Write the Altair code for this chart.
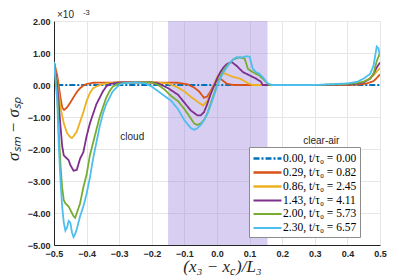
import altair as alt
import pandas as pd

labels = ["0.00, t/τ₀ = 0.00", "0.29, t/τ₀ = 0.82", "0.86, t/τ₀ = 2.45",
          "1.43, t/τ₀ = 4.11", "2.00, t/τ₀ = 5.73", "2.30, t/τ₀ = 6.57"]
colors = ["#0072BD", "#D95319", "#EDB120", "#7E2F8E", "#77AC30", "#4DBEEE"]
dashes = [[6, 2, 2, 2], [1, 0], [1, 0], [1, 0], [1, 0], [1, 0]]

x_blue = [-0.49, 0.5]
y_blue = [0.0, 0.0]

x_red = [-0.5, -0.49, -0.48, -0.475, -0.469, -0.46, -0.45, -0.44, -0.43, -0.42, -0.41, -0.40, -0.38,
         -0.3, -0.2, -0.12, -0.09, -0.07, -0.055, -0.04, -0.03, -0.02, -0.01, 0.0, 0.01, 0.02, 0.03,
         0.05, 0.3, 0.4, 0.44, 0.46, 0.48, 0.49, 0.5]
y_red = [0.72, 0.3, -0.4, -0.7, -0.78, -0.7, -0.55, -0.38, -0.22, -0.1, -0.02, 0.03, 0.07,
         0.08, 0.08, 0.07, 0.02, -0.08, -0.2, -0.4, -0.36, -0.2, 0.0, 0.15, 0.2, 0.12, 0.04,
         0.0, 0.0, 0.0, 0.02, 0.05, 0.12, 0.22, 0.33]

x_orange = [-0.5, -0.49, -0.48, -0.47, -0.46, -0.45, -0.445, -0.44, -0.43, -0.42, -0.41, -0.40, -0.39,
            -0.38, -0.36, -0.34, -0.3, -0.2, -0.15, -0.12, -0.1, -0.08, -0.06, -0.043, -0.03, -0.015,
            0.0, 0.015, 0.03, 0.05, 0.07, 0.085, 0.095, 0.11, 0.3, 0.4, 0.44, 0.46, 0.48, 0.49, 0.5]
y_orange = [0.72, 0.1, -0.7, -1.2, -1.5, -1.63, -1.66, -1.6, -1.45, -1.15, -0.85, -0.5, -0.25,
            -0.1, 0.0, 0.05, 0.08, 0.08, 0.05, -0.08, -0.2, -0.37, -0.52, -0.64, -0.5, -0.15,
            0.25, 0.4, 0.33, 0.25, 0.2, 0.12, 0.05, 0.0, 0.0, 0.02, 0.06, 0.15, 0.3, 0.42, 0.53]

x_purple = [-0.5, -0.49, -0.48, -0.475, -0.47, -0.46, -0.455, -0.45, -0.44, -0.43, -0.42, -0.41,
            -0.40, -0.39, -0.38, -0.37, -0.36, -0.35, -0.34, -0.33, -0.3, -0.2, -0.18, -0.15, -0.12,
            -0.1, -0.08, -0.06, -0.05, -0.04, -0.03, -0.02, -0.01, 0.0, 0.01, 0.02, 0.03, 0.045,
            0.06, 0.08, 0.1, 0.12, 0.135, 0.14, 0.2, 0.35, 0.42, 0.45, 0.47, 0.48, 0.49, 0.5]
y_purple = [0.72, 0.0, -1.3, -1.9, -2.2, -2.3, -2.35, -2.5, -2.68, -2.65, -2.3, -2.1,
            -1.6, -1.2, -0.9, -0.6, -0.4, -0.2, -0.05, 0.03, 0.08, 0.08, 0.05, -0.1, -0.3,
            -0.55, -0.8, -0.95, -0.95, -0.85, -0.6, -0.3, -0.05, 0.2, 0.4, 0.55, 0.65, 0.72,
            0.6, 0.4, 0.3, 0.2, 0.1, 0.0, 0.0, 0.0, 0.03, 0.08, 0.2, 0.35, 0.55, 0.7]

x_green = [-0.5, -0.49, -0.485, -0.48, -0.475, -0.47, -0.465, -0.46, -0.455, -0.45, -0.44, -0.435,
           -0.43, -0.42, -0.41, -0.40, -0.39, -0.38, -0.37, -0.36, -0.35, -0.34, -0.33, -0.32, -0.3,
           -0.25, -0.2, -0.18, -0.16, -0.14, -0.12, -0.1, -0.08, -0.07, -0.06, -0.05, -0.04, -0.03,
           -0.02, -0.01, 0.0, 0.01, 0.02, 0.03, 0.05, 0.07, 0.085, 0.095, 0.11, 0.13, 0.15, 0.16,
           0.3, 0.38, 0.42, 0.45, 0.47, 0.48, 0.49, 0.5]
y_green = [0.72, -0.3, -1.5, -2.5, -3.2, -3.6, -3.7, -3.75, -3.8, -3.9, -4.1, -4.15,
           -4.0, -3.7, -3.2, -2.8, -2.2, -1.8, -1.4, -1.0, -0.7, -0.4, -0.2, -0.05, 0.05,
           0.08, 0.08, 0.0, -0.15, -0.35, -0.5, -0.75, -1.05, -1.2, -1.25, -1.2, -1.1, -0.9,
           -0.6, -0.3, 0.0, 0.25, 0.45, 0.6, 0.8, 0.87, 0.82, 0.5, 0.4, 0.3, 0.1, 0.0,
           0.0, 0.02, 0.05, 0.1, 0.2, 0.35, 0.75, 1.0]

x_cyan = [-0.5, -0.49, -0.485, -0.48, -0.475, -0.47, -0.465, -0.46, -0.455, -0.45, -0.445, -0.44,
          -0.435, -0.43, -0.42, -0.41, -0.40, -0.39, -0.38, -0.37, -0.36, -0.35, -0.34, -0.33, -0.32,
          -0.31, -0.3, -0.29, -0.25, -0.22, -0.2, -0.18, -0.16, -0.14, -0.12, -0.1, -0.08, -0.07,
          -0.06, -0.05, -0.04, -0.03, -0.02, -0.01, 0.0, 0.01, 0.02, 0.03, 0.04, 0.05, 0.06, 0.07,
          0.08, 0.09, 0.1, 0.11, 0.12, 0.13, 0.14, 0.155, 0.17, 0.3, 0.36, 0.4, 0.43, 0.45, 0.47,
          0.48, 0.485, 0.49, 0.495, 0.5]
y_cyan = [0.72, -0.5, -2.0, -3.0, -3.8, -4.3, -4.55, -4.45, -4.25, -4.3, -4.6, -4.75,
          -4.65, -4.5, -4.1, -3.8, -3.4, -2.9, -2.3, -1.8, -1.3, -0.9, -0.6, -0.4, -0.2,
          -0.1, 0.0, 0.05, 0.08, 0.05, -0.05, -0.2, -0.35, -0.5, -0.75, -1.1, -1.35, -1.4,
          -1.35, -1.25, -1.1, -0.9, -0.65, -0.35, -0.05, 0.2, 0.4, 0.55, 0.7, 0.8, 0.87, 0.85,
          0.87, 0.9, 0.88, 0.5, 0.4, 0.35, 0.25, 0.05, 0.0, 0.0, 0.03, 0.05, 0.1, 0.2, 0.35,
          0.6, 0.9, 1.2, 1.15, 0.9]

series_x = [x_blue, x_red, x_orange, x_purple, x_green, x_cyan]
series_y = [y_blue, y_red, y_orange, y_purple, y_green, y_cyan]

rows = []
for lab, xs_, ys_ in zip(labels, series_x, series_y):
    for i, (xv, yv) in enumerate(zip(xs_, ys_)):
        rows.append({"series": lab, "x": xv, "y": yv, "i": i})
df = pd.DataFrame(rows)

x_ticks = [-0.5, -0.4, -0.3, -0.2, -0.1, 0.0, 0.1, 0.2, 0.3, 0.4, 0.5]
y_ticks = [-5, -4, -3, -2, -1, 0, 1, 2]

shade_df = pd.DataFrame({"x0": [-0.15], "x1": [0.155]})
notes_df = pd.DataFrame({"x": [-0.26, 0.32], "y": [-1.63, -1.75], "t": ["cloud", "clear-air"]})

W, H = 326, 224
xs = alt.Scale(domain=[-0.5, 0.5], nice=False, zero=False)
ys = alt.Scale(domain=[-5, 2], nice=False, zero=False)

x_axis = alt.Axis(values=x_ticks, format=".1f", title=None, labelOverlap=False,
                  tickCount=11, labelFlush=False)
y_axis = alt.Axis(values=y_ticks, format=".2f", labelOverlap=False, tickCount=8,
                  labelFlush=False, title=None)

shade = alt.Chart(shade_df).mark_rect(color="#9b84db", opacity=0.4).encode(
    x=alt.X("x0:Q", scale=xs, axis=x_axis),
    x2="x1:Q",
    y=alt.value(0), y2=alt.value(H),
)

lines = alt.Chart(df).mark_line(strokeWidth=1.8, clip=True).encode(
    x=alt.X("x:Q", scale=xs, axis=x_axis),
    y=alt.Y("y:Q", scale=ys, axis=y_axis),
    color=alt.Color("series:N", scale=alt.Scale(domain=labels, range=colors),
                    sort=labels, legend=alt.Legend(title=None)),
    strokeDash=alt.StrokeDash("series:N", scale=alt.Scale(domain=labels, range=dashes),
                              sort=labels, legend=alt.Legend(title=None)),
    strokeWidth=alt.StrokeWidth("series:N", scale=alt.Scale(domain=labels, range=[2.6, 1.8, 1.8, 1.8, 1.8, 1.8]),
                                legend=None),
    order="i:Q",
)

notes = alt.Chart(notes_df).mark_text(font="Liberation Sans", fontSize=10, color="#262626").encode(
    x=alt.X("x:Q", scale=xs, axis=x_axis), y=alt.Y("y:Q", scale=ys, axis=y_axis), text="t:N")

def ptext(txt, px, py, size, align="left", font="Liberation Sans", style="normal",
          weight="normal", angle=0, baseline="alphabetic"):
    return alt.Chart(pd.DataFrame({"t": [txt]})).mark_text(
        font=font, fontSize=size, align=align, baseline=baseline, fontStyle=style,
        fontWeight=weight, color="#262626", angle=angle).encode(
        x=alt.value(px), y=alt.value(py), text="t:N")

mult = ptext("×10", 3, -3, 10)
mult_exp = ptext("-3", 29, -6, 7.5)
ytitle = ptext("σₛₘ  −  σₛₚ", -40, 108, 17, align="center", font="Liberation Serif",
               style="italic", angle=270, baseline="middle")
xt1 = ptext("(x₃  −  x", 176, 251, 17, align="right", font="Liberation Serif", style="italic")
xt2 = ptext("c", 176, 254, 12, font="Liberation Serif", style="italic")
xt3 = ptext(")/L₃", 182, 251, 17, font="Liberation Serif", style="italic")

chart = alt.layer(shade, lines, notes, mult, mult_exp, ytitle, xt1, xt2, xt3).properties(
    width=W, height=H,
    padding={"left": 46, "top": 13, "right": 11, "bottom": 32},
    autosize=alt.AutoSizeParams(type="none"),
).configure_view(stroke=None).configure_axis(
    grid=True, gridColor="#e6e6e6", gridWidth=1,
    domainColor="#262626", domainWidth=1,
    ticks=False, labelOverlap=False,
    labelFont="Liberation Sans", labelFontWeight="bold", labelFontSize=9,
    labelColor="#262626", labelPadding=4,
).configure_legend(
    orient="none", legendX=195, legendY=126,
    fillColor="white", strokeColor="#8c8c8c", padding=3,
    symbolType="M-2,0H2", symbolSize=196, symbolStrokeWidth=1.8, symbolOffset=7,
    symbolFillColor="transparent",
    labelFont="Liberation Serif", labelFontSize=11.5, labelColor="#000000",
    rowPadding=0, labelOffset=7,
)

chart.save("out.html", embed_options={"renderer": "svg", "actions": False})
